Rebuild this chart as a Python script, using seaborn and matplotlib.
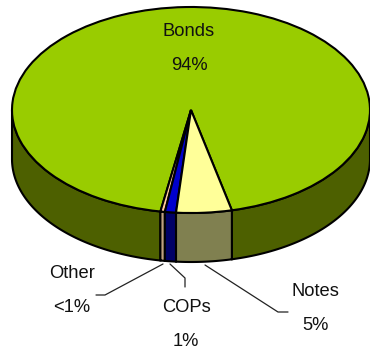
import numpy as np
import matplotlib
matplotlib.use("Agg")
import matplotlib.pyplot as plt
import seaborn as sns

categories = ["Bonds", "Other", "COPs", "Notes"]
values = [93.6, 0.4, 1.0, 5.0]
value_labels = ["94%", "<1%", "1%", "5%"]
top_colors = ["#99CC00", "#FFCC99", "#0000CC", "#FFFF99"]
side_colors = ["#4D6000", "#BFA080", "#000066", "#808050"]

sns.set_theme(style="white")
plt.rcParams["font.family"] = ["Liberation Sans", "DejaVu Sans"]

W, H = 370, 350
CX, CY, RX, RY, DEPTH = 191, 110, 179, 103, 49

fig = plt.figure(figsize=(W / 100, H / 100), dpi=100)
ax = fig.add_axes([0, 0, 1, 1])

wedges, _ = ax.pie(values, colors=sns.color_palette(top_colors), startangle=-76.8,
                   counterclock=True, radius=1, center=(0, 0),
                   wedgeprops=dict(edgecolor="black", linewidth=1.5, zorder=5))
ax.set_aspect("auto")
ax.set_xlim(-CX / RX, (W - CX) / RX)
ax.set_ylim(-(H - CY) / RY, CY / RY)
ax.axis("off")
d = DEPTH / RY


def px(x, y):
    return (x - CX) / RX, (CY - y) / RY


for wedge, col in zip(wedges, side_colors):
    t = np.deg2rad(np.linspace(wedge.theta1, wedge.theta2, 1500))
    vis = np.sin(t) <= 0
    idx = np.flatnonzero(vis)
    if idx.size == 0:
        continue
    for run in np.split(idx, np.flatnonzero(np.diff(idx) > 1) + 1):
        xs, ys = np.cos(t[run]), np.sin(t[run])
        ax.fill(np.r_[xs, xs[::-1]], np.r_[ys, ys[::-1] - d], facecolor=col,
                edgecolor="black", linewidth=1.5, zorder=3, clip_on=True)

label_pos = {
    "Bonds": ((189, 32), (189, 66)),
    "Other": ((72, 274), (72, 308)),
    "COPs": ((186, 308), (186, 341)),
    "Notes": ((315, 292), (316, 326)),
}
for name, lab in zip(categories, value_labels):
    (x1, y1), (x2, y2) = label_pos[name]
    for (x, y), s in (((x1, y1), name), ((x2, y2), lab)):
        ax.text(*px(x, y), s, ha="center", va="center", fontsize=13.2,
                color="#111111", zorder=8)

leaders = [
    [(163, 264), (105, 295), (96, 295)],
    [(170, 264), (185, 278), (185, 287)],
    [(205, 265), (278, 312), (288, 312)],
]
for pts in leaders:
    p = np.array([px(*q) for q in pts])
    ax.plot(p[:, 0], p[:, 1], color="#222222", lw=0.9, zorder=7)

fig.savefig("out.png", dpi=100, facecolor="white")
